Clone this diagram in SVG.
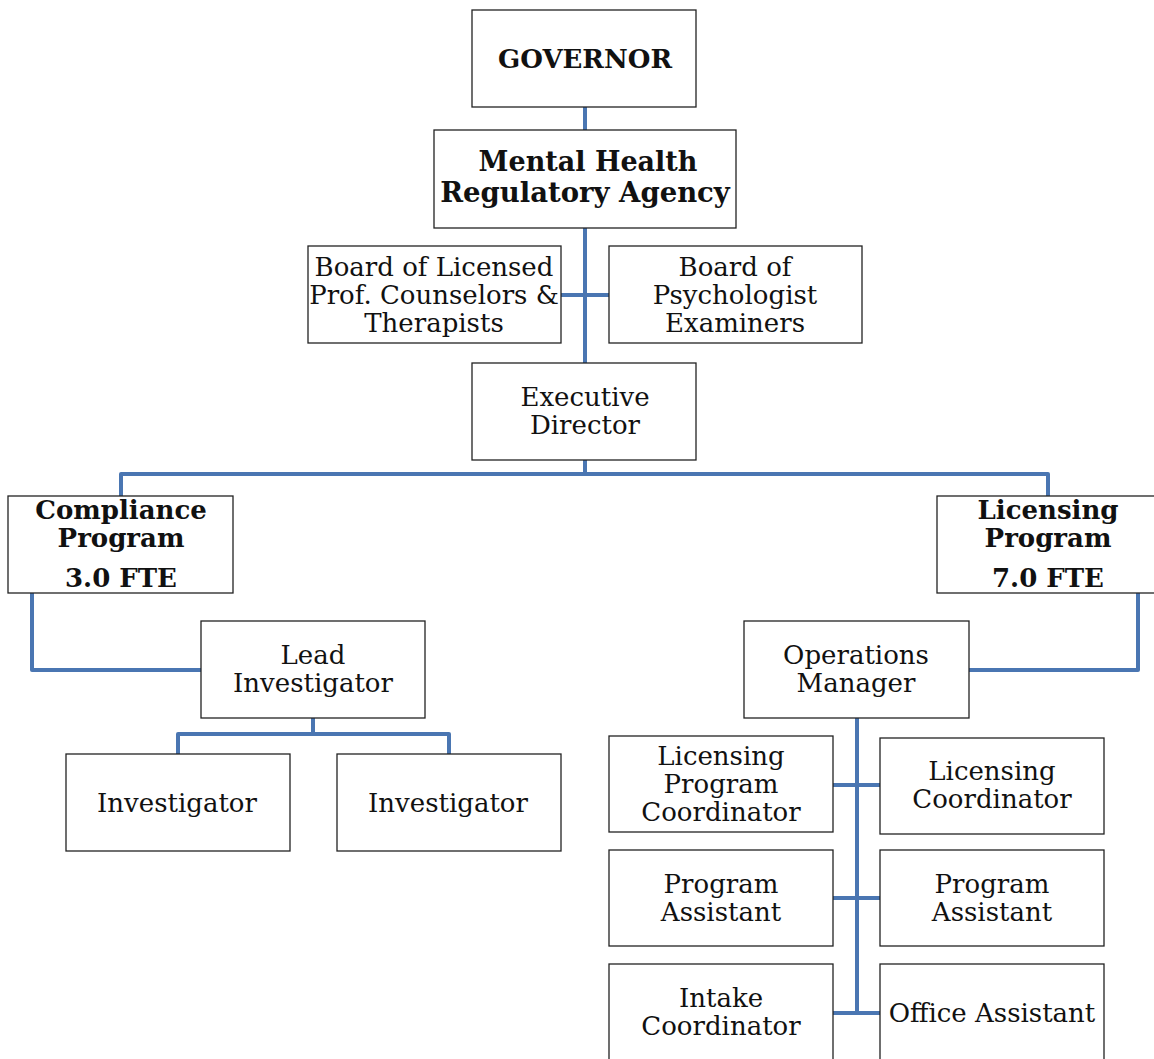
<svg xmlns="http://www.w3.org/2000/svg" width="1154" height="1059" viewBox="0 0 1154 1059">
<style>
.box{fill:#fff;stroke:#222;stroke-width:1.3}
.t{font-family:"DejaVu Serif","Liberation Serif",serif;font-size:26px;fill:#111;text-anchor:middle}
.b{font-weight:bold;font-size:26px}
.c{fill:none;stroke:#4a76b2;stroke-width:4;stroke-linejoin:round}
</style>
<rect width="1154" height="1059" fill="#fff"/>
<g id="connectors">
<path class="c" d="M585,107V130M585,228V363M561,295H609"/>
<path class="c" d="M585,460V474M121,496V474H1048V496"/>
<path class="c" d="M32,593V670H201"/>
<path class="c" d="M1138,593V670H969"/>
<path class="c" d="M313,718V734M178,754V734H449V754"/>
<path class="c" d="M857,718V1013M833,785H880M833,898H880M833,1013H880"/>
</g>
<g id="governor"><rect class="box" x="472" y="10" width="224" height="97"/><text class="t b" x="585" y="68">GOVERNOR</text></g>
<g id="agency"><rect class="box" x="434" y="130" width="302" height="98"/><text class="t b" x="588" y="171" style="font-size:27px">Mental Health</text><text class="t b" x="585" y="202" style="font-size:27.5px">Regulatory Agency</text></g>
<g id="board-lpc"><rect class="box" x="308" y="246" width="253" height="97"/><text class="t" x="434" y="276">Board of Licensed</text><text class="t" x="434" y="304">Prof. Counselors &amp;</text><text class="t" x="434" y="332">Therapists</text></g>
<g id="board-psych"><rect class="box" x="609" y="246" width="253" height="97"/><text class="t" x="735" y="276">Board of</text><text class="t" x="735" y="304">Psychologist</text><text class="t" x="735" y="332">Examiners</text></g>
<g id="exec"><rect class="box" x="472" y="363" width="224" height="97"/><text class="t" x="585" y="406">Executive</text><text class="t" x="585" y="434">Director</text></g>
<g id="compliance"><rect class="box" x="8" y="496" width="225" height="97"/><text class="t b" x="121" y="519">Compliance</text><text class="t b" x="121" y="547">Program</text><text class="t b" x="121" y="587">3.0 FTE</text></g>
<g id="licensing"><rect class="box" x="937" y="496" width="225" height="97"/><text class="t b" x="1048" y="519">Licensing</text><text class="t b" x="1048" y="547">Program</text><text class="t b" x="1048" y="587">7.0 FTE</text></g>
<g id="lead"><rect class="box" x="201" y="621" width="224" height="97"/><text class="t" x="313" y="664">Lead</text><text class="t" x="313" y="692">Investigator</text></g>
<g id="ops"><rect class="box" x="744" y="621" width="225" height="97"/><text class="t" x="856" y="664">Operations</text><text class="t" x="856" y="692">Manager</text></g>
<g id="inv1"><rect class="box" x="66" y="754" width="224" height="97"/><text class="t" x="177" y="812">Investigator</text></g>
<g id="inv2"><rect class="box" x="337" y="754" width="224" height="97"/><text class="t" x="448" y="812">Investigator</text></g>
<g id="lpc"><rect class="box" x="609" y="736" width="224" height="96"/><text class="t" x="721" y="765">Licensing</text><text class="t" x="721" y="793">Program</text><text class="t" x="721" y="821">Coordinator</text></g>
<g id="lc"><rect class="box" x="880" y="738" width="224" height="96"/><text class="t" x="992" y="780">Licensing</text><text class="t" x="992" y="808">Coordinator</text></g>
<g id="pa1"><rect class="box" x="609" y="850" width="224" height="96"/><text class="t" x="721" y="893">Program</text><text class="t" x="721" y="921">Assistant</text></g>
<g id="pa2"><rect class="box" x="880" y="850" width="224" height="96"/><text class="t" x="992" y="893">Program</text><text class="t" x="992" y="921">Assistant</text></g>
<g id="intake"><rect class="box" x="609" y="964" width="224" height="100"/><text class="t" x="721" y="1007">Intake</text><text class="t" x="721" y="1035">Coordinator</text></g>
<g id="office"><rect class="box" x="880" y="964" width="224" height="100"/><text class="t" x="992" y="1022">Office Assistant</text></g>
</svg>
